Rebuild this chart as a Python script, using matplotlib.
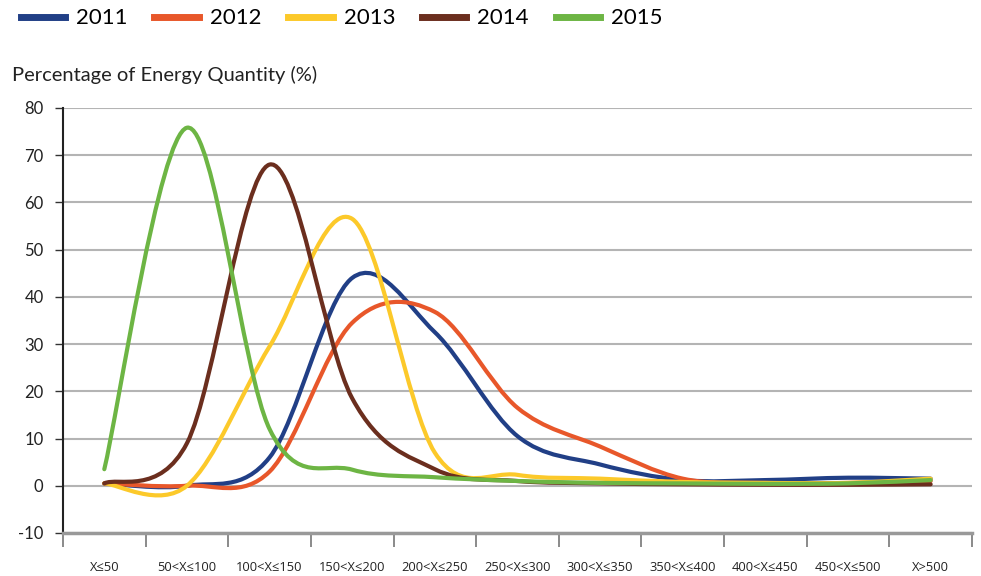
import numpy as np
import matplotlib.pyplot as plt
from matplotlib.path import Path
from matplotlib.patches import PathPatch
from matplotlib.lines import Line2D

categories = ['X≤50', '50<X≤100', '100<X≤150', '150<X≤200', '200<X≤250',
              '250<X≤300', '300<X≤350', '350<X≤400', '400<X≤450',
              '450<X≤500', 'X>500']
years = ['2011', '2012', '2013', '2014', '2015']
y2011 = [0.5, 0.0, 6.0, 44.0, 32.5, 10.5, 4.5, 1.2, 1.2, 1.7, 1.5]
y2012 = [0.5, 0.0, 3.0, 34.5, 36.8, 16.5, 8.3, 1.5, 0.6, 0.6, 1.0]
y2013 = [0.5, 0.0, 29.5, 56.5, 7.0, 2.3, 1.5, 0.8, 0.6, 0.6, 1.5]
y2014 = [0.5, 9.0, 68.0, 18.5, 3.5, 1.0, 0.5, 0.3, 0.2, 0.2, 0.3]
y2015 = [3.5, 75.8, 12.0, 3.4, 1.8, 1.0, 0.6, 0.5, 0.4, 0.5, 1.2]
colors = ['#213f86', '#e8572a', '#fcc92a', '#6b2e1e', '#6db544']
yticks = list(range(-10, 81, 10))

def smooth_path(xs, ys, t=1.0 / 6):
    # catmull-rom as cubic bezier segments, like excel's smoothed line
    xs = np.asarray(xs, float)
    ys = np.asarray(ys, float)
    n = len(xs)
    verts = [(xs[0], ys[0])]
    codes = [Path.MOVETO]
    for i in range(n - 1):
        p0 = i - 1 if i > 0 else i
        p3 = i + 2 if i + 2 < n else i + 1
        c1 = (xs[i] + (xs[i + 1] - xs[p0]) * t, ys[i] + (ys[i + 1] - ys[p0]) * t)
        c2 = (xs[i + 1] - (xs[p3] - xs[i]) * t, ys[i + 1] - (ys[p3] - ys[i]) * t)
        verts += [c1, c2, (xs[i + 1], ys[i + 1])]
        codes += [Path.CURVE4] * 3
    return Path(verts, codes)

plt.rcParams['font.family'] = ['Lato', 'DejaVu Sans']
fig = plt.figure(figsize=(9.81, 5.76), dpi=100)
ax = fig.add_axes([0.0642, 0.0747, 0.9266, 0.738])

x = np.arange(len(categories))
series = [y2011, y2012, y2013, y2014, y2015]
for ys, c in zip(series, colors):
    ax.add_patch(PathPatch(smooth_path(x, ys), facecolor='none', edgecolor=c,
                           lw=3, capstyle='round', joinstyle='round', zorder=3))

ax.set_xlim(-0.5, len(categories) - 0.5)
ax.set_ylim(-10, 80)
ax.set_yticks(yticks)
ax.set_yticklabels([str(v) for v in yticks], fontsize=12, color='#222222')
ax.yaxis.grid(True, color='#b4b4b4', lw=1.5, zorder=0)
ax.set_axisbelow(True)

ax.set_xticks(np.arange(len(categories) + 1) - 0.5)
ax.set_xticklabels([])
ax.set_xticks(x, minor=True)
ax.set_xticklabels(categories, minor=True, fontsize=9.3, color='#222222',
                   family=['Open Sans', 'DejaVu Sans'])
ax.tick_params(axis='x', which='major', length=10, width=1.2, color='#777777')
ax.tick_params(axis='x', which='minor', length=0, pad=20)
ax.tick_params(axis='y', length=6, width=1, color='#333333', pad=8)

for s in ['top', 'right']:
    ax.spines[s].set_visible(False)
ax.spines['left'].set_color('#222222')
ax.spines['left'].set_linewidth(1.5)
ax.spines['bottom'].set_color('#999999')
ax.spines['bottom'].set_linewidth(2.5)

fig.text(0.012, 0.87, 'Percentage of Energy Quantity (%)', fontsize=14.5,
         color='#222222', va='center')

handles = [Line2D([], [], color=c, lw=5) for c in colors]
fig.legend(handles, years, loc='center left', bbox_to_anchor=(0.012, 0.968),
           ncol=5, frameon=False, fontsize=16, handlelength=2.0,
           handletextpad=0.5, columnspacing=1.2, borderaxespad=0)

fig.savefig('out.png', dpi=100)
